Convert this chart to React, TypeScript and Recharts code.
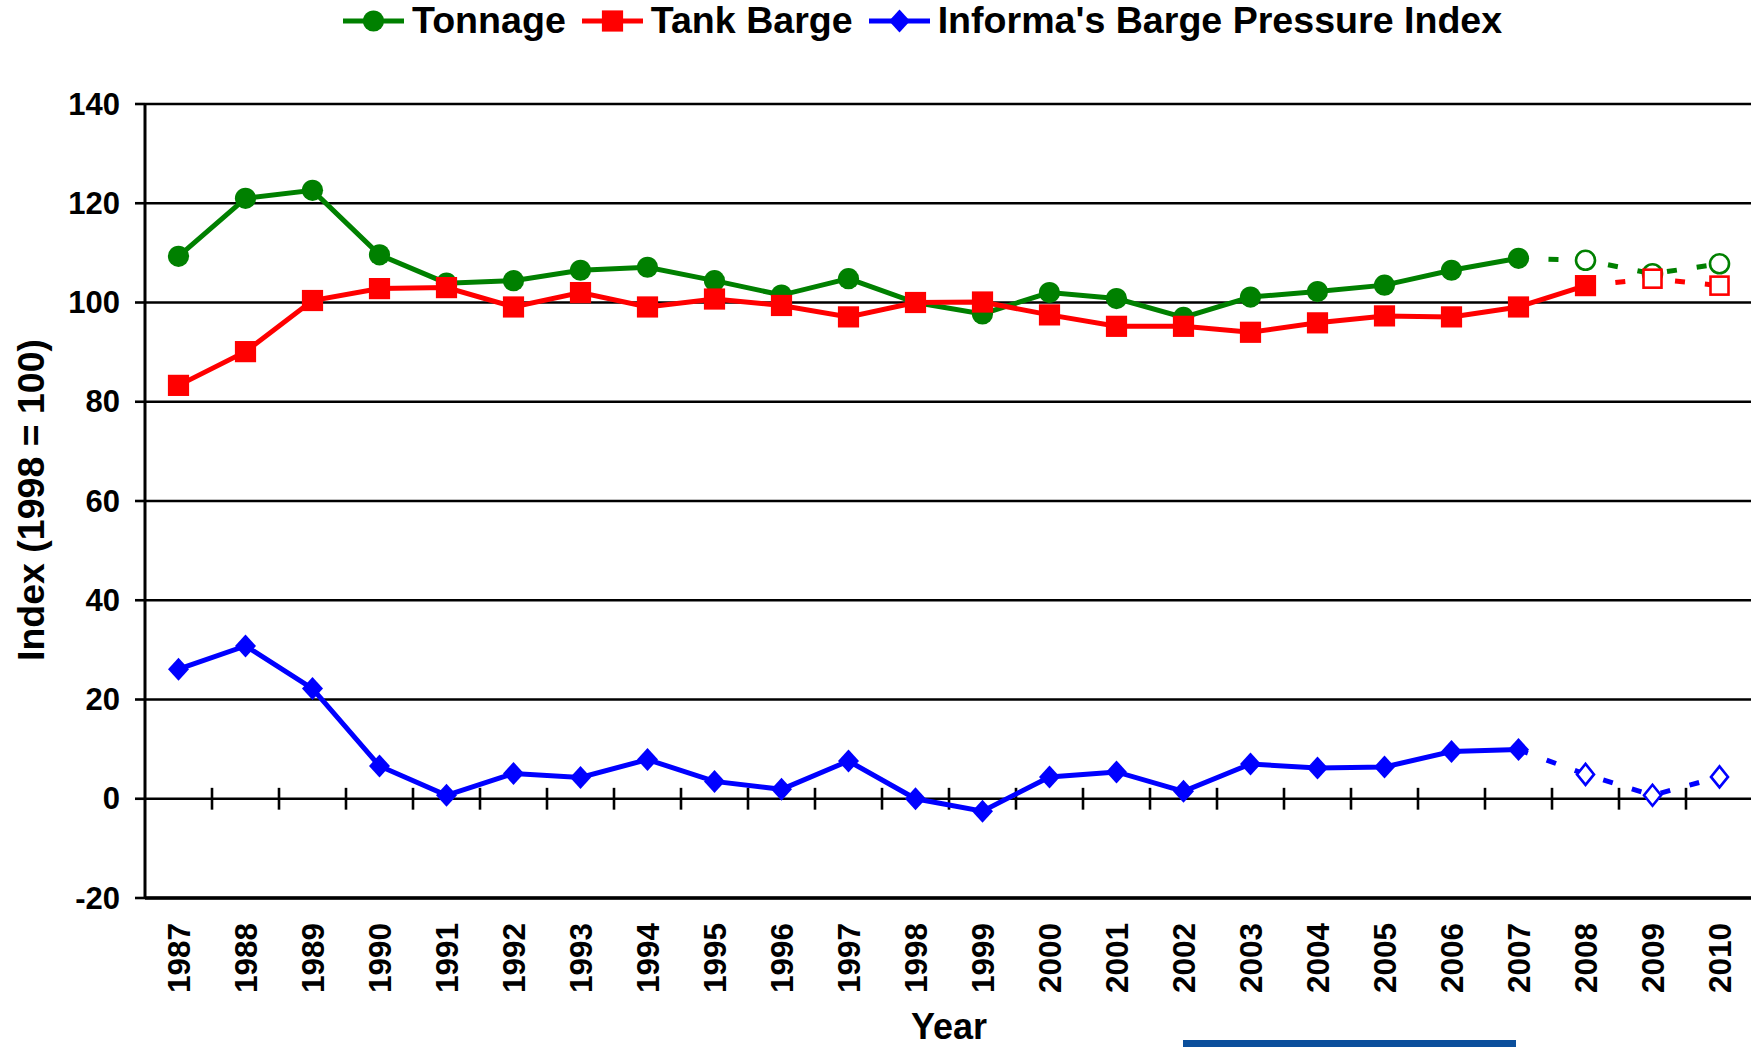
import React from 'react';
import { LineChart, Line, XAxis, YAxis, CartesianGrid, ReferenceLine } from 'recharts';

const FONT = '"Liberation Sans", Arial, Helvetica, sans-serif';

const years = [1987, 1988, 1989, 1990, 1991, 1992, 1993, 1994, 1995, 1996, 1997, 1998, 1999, 2000, 2001, 2002, 2003, 2004, 2005, 2006, 2007, 2008, 2009, 2010];
const tonnage = [109.3, 121.0, 122.6, 109.6, 103.9, 104.4, 106.5, 107.1, 104.4, 101.5, 104.8, 100.0, 97.7, 102.0, 100.8, 97.0, 101.1, 102.2, 103.5, 106.5, 108.9, 108.5, 105.8, 107.8];
const tankBarge = [83.3, 90.1, 100.4, 102.8, 103.0, 99.1, 102.0, 99.1, 100.7, 99.4, 97.1, 100.0, 100.1, 97.5, 95.2, 95.2, 94.0, 95.9, 97.3, 97.1, 99.1, 103.4, 104.8, 103.4];
const bargePressureIndex = [26.1, 30.8, 22.2, 6.6, 0.7, 5.1, 4.3, 7.9, 3.5, 1.9, 7.6, 0.0, -2.5, 4.4, 5.4, 1.5, 7.0, 6.2, 6.4, 9.5, 9.9, 4.9, 0.7, 4.4];

const tonnageLastActualYear = 2007;
const tankBargeLastActualYear = 2008;
const bpiLastActualYear = 2007;

const yTicks = [-20, 0, 20, 40, 60, 80, 100, 120, 140];
const seriesNames = ['Tonnage', 'Tank Barge', "Informa's Barge Pressure Index"];
const seriesColors = ['#008000', '#ff0000', '#0000ff'];
const seriesShapes = ['circle', 'square', 'diamond'];
const yAxisTitle = 'Index (1998 = 100)';
const xAxisTitle = 'Year';

const rows = years.map((year, i) => ({
  year,
  tonnage: year <= tonnageLastActualYear ? tonnage[i] : null,
  tonnageProj: year >= tonnageLastActualYear ? tonnage[i] : null,
  tank: year <= tankBargeLastActualYear ? tankBarge[i] : null,
  tankProj: year >= tankBargeLastActualYear ? tankBarge[i] : null,
  bpi: year <= bpiLastActualYear ? bargePressureIndex[i] : null,
  bpiProj: year >= bpiLastActualYear ? bargePressureIndex[i] : null,
}));

const zeroTickBoundaries = years.slice(0, -1).map((y) => y + 0.5);

function markerShape(shape: string, color: string, hollow: boolean, cx: number, cy: number, key?: string) {
  const fill = hollow ? '#ffffff' : color;
  const stroke = hollow ? color : 'none';
  const sw = hollow ? 2.6 : 0;
  if (shape === 'circle') {
    return <circle key={key} cx={cx} cy={cy} r={hollow ? 9.5 : 10.6} fill={fill} stroke={stroke} strokeWidth={sw} />;
  }
  if (shape === 'square') {
    const h = hollow ? 9 : 10.6;
    return <rect key={key} x={cx - h} y={cy - h} width={2 * h} height={2 * h} fill={fill} stroke={stroke} strokeWidth={sw} />;
  }
  const w = hollow ? 8.5 : 10.5;
  const hh = hollow ? 10.5 : 11.5;
  return (
    <path
      key={key}
      d={`M${cx},${cy - hh} L${cx + w},${cy} L${cx},${cy + hh} L${cx - w},${cy} Z`}
      fill={fill}
      stroke={stroke}
      strokeWidth={sw}
    />
  );
}

function makeDot(shape: string, color: string, hollow: boolean, skipYear: number | null, id: string) {
  return (props: any) => {
    const { cx, cy, index, payload } = props;
    const key = `${id}-${index}`;
    if (cx == null || cy == null || Number.isNaN(cy) || (skipYear != null && payload && payload.year === skipYear)) {
      return <g key={key} />;
    }
    return markerShape(shape, color, hollow, cx, cy, key);
  };
}

const XTick = (props: any) => {
  const { x, y, payload } = props;
  return (
    <text
      x={x}
      y={y}
      transform={`rotate(-90, ${x}, ${y})`}
      textAnchor="end"
      dominantBaseline="central"
      fontSize={31.5}
      fontWeight={700}
      fontFamily={FONT}
      fill="#000"
    >
      {payload.value}
    </text>
  );
};

const YTick = (props: any) => {
  const { x, y, payload } = props;
  return (
    <text
      x={x}
      y={y}
      textAnchor="end"
      dominantBaseline="central"
      fontSize={31}
      fontWeight={700}
      fontFamily={FONT}
      fill="#000"
    >
      {payload.value}
    </text>
  );
};

const YTitle = (props: any) => {
  const vb = props.viewBox || { x: 0, y: 104, width: 145, height: 794 };
  const x = vb.x + 31;
  const y = vb.y + vb.height / 2 - 1;
  return (
    <text
      x={x}
      y={y}
      transform={`rotate(-90, ${x}, ${y})`}
      textAnchor="middle"
      dominantBaseline="central"
      fontSize={37.5}
      fontWeight={700}
      fontFamily={FONT}
      fill="#000"
    >
      {yAxisTitle}
    </text>
  );
};

const XTitle = (props: any) => {
  const vb = props.viewBox || { x: 145, y: 898, width: 1608, height: 149 };
  return (
    <text
      x={vb.x + vb.width / 2}
      y={vb.y + vb.height - 8}
      textAnchor="middle"
      fontSize={36}
      fontWeight={700}
      fontFamily={FONT}
      fill="#000"
    >
      {xAxisTitle}
    </text>
  );
};

const LegendBlock = () => (
  <div
    style={{
      position: 'absolute',
      left: 343,
      top: 2,
      display: 'flex',
      alignItems: 'flex-start',
      fontFamily: FONT,
      fontWeight: 700,
      fontSize: 37.6,
      lineHeight: '37px',
      whiteSpace: 'nowrap',
      color: '#000',
    }}
  >
    {seriesNames.map((name, i) => (
      <div key={name} style={{ display: 'flex', alignItems: 'flex-start', marginRight: 16 }}>
        <svg width={61} height={37} style={{ display: 'block', marginRight: 8 }}>
          <line x1={0} x2={61} y1={19} y2={19} stroke={seriesColors[i]} strokeWidth={5} />
          {markerShape(seriesShapes[i], seriesColors[i], false, 30.5, 19)}
        </svg>
        <span>{name}</span>
      </div>
    ))}
  </div>
);

export default function App() {
  const [g, r, b] = seriesColors;
  const lw = 5;
  const dash = '10 20';
  return (
    <div style={{ position: 'absolute', left: 0, top: 0, width: 1751, height: 1047, overflow: 'hidden', background: '#fff' }}>
      <LineChart width={1753} height={1047} data={rows} margin={{ top: 104, right: 0, bottom: 0, left: 0 }}>
        <CartesianGrid vertical={false} stroke="#000" strokeWidth={2.6} />
        <XAxis
          dataKey="year"
          type="number"
          domain={[1986.5, 2010.5]}
          ticks={years}
          interval={0}
          height={149}
          tickSize={0}
          tickMargin={25}
          axisLine={{ stroke: '#000', strokeWidth: 3.5 }}
          tickLine={false}
          tick={<XTick />}
          label={XTitle}
        />
        <YAxis
          type="number"
          domain={[-20, 140]}
          ticks={yTicks}
          interval={0}
          width={145}
          tickSize={10}
          tickMargin={15}
          axisLine={{ stroke: '#000', strokeWidth: 3 }}
          tickLine={{ stroke: '#000', strokeWidth: 2.6 }}
          tick={<YTick />}
          label={YTitle}
        />
        {zeroTickBoundaries.map((bx) => (
          <ReferenceLine
            key={bx}
            segment={[{ x: bx, y: -2.2 }, { x: bx, y: 2.2 }]}
            stroke="#000"
            strokeWidth={2.6}
            ifOverflow="visible"
          />
        ))}
        <Line dataKey="tonnage" stroke={g} strokeWidth={lw} dot={makeDot('circle', g, false, null, 'ton')} activeDot={false} isAnimationActive={false} connectNulls={false} />
        <Line dataKey="tonnageProj" stroke={g} strokeWidth={lw} strokeDasharray={dash} dot={makeDot('circle', g, true, tonnageLastActualYear, 'tonp')} activeDot={false} isAnimationActive={false} connectNulls={false} />
        <Line dataKey="tank" stroke={r} strokeWidth={lw} dot={makeDot('square', r, false, null, 'tank')} activeDot={false} isAnimationActive={false} connectNulls={false} />
        <Line dataKey="tankProj" stroke={r} strokeWidth={lw} strokeDasharray={dash} dot={makeDot('square', r, true, tankBargeLastActualYear, 'tankp')} activeDot={false} isAnimationActive={false} connectNulls={false} />
        <Line dataKey="bpi" stroke={b} strokeWidth={lw} dot={makeDot('diamond', b, false, null, 'bpi')} activeDot={false} isAnimationActive={false} connectNulls={false} />
        <Line dataKey="bpiProj" stroke={b} strokeWidth={lw} strokeDasharray={dash} dot={makeDot('diamond', b, true, bpiLastActualYear, 'bpip')} activeDot={false} isAnimationActive={false} connectNulls={false} />
      </LineChart>
      <LegendBlock />
      <div style={{ position: 'absolute', left: 1183, top: 1040, width: 333, height: 7, background: '#0b4f9c' }} />
    </div>
  );
}
